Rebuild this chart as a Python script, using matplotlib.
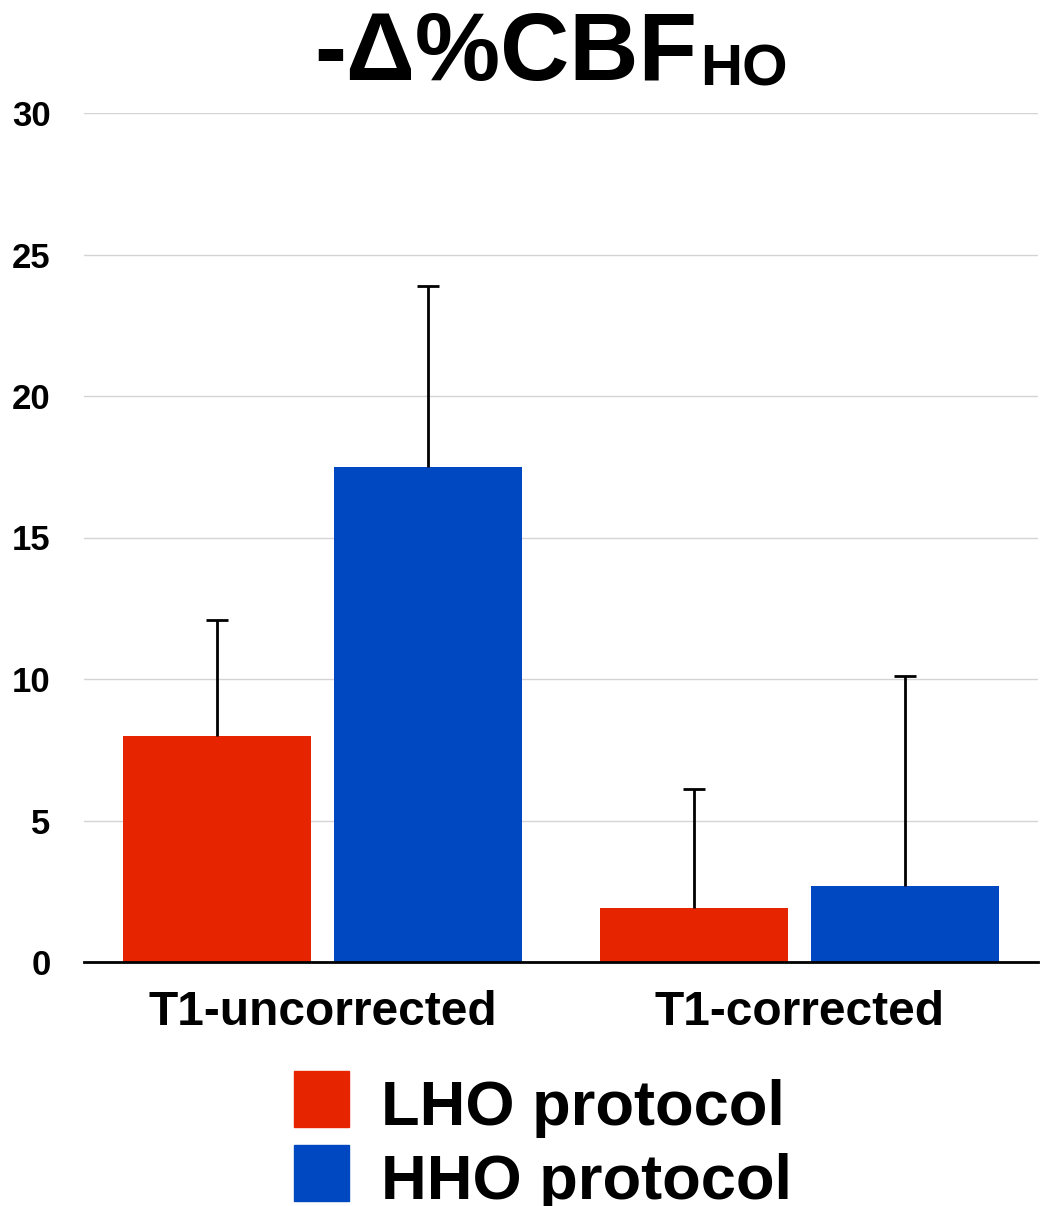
import matplotlib.pyplot as plt
import numpy as np
from matplotlib.patches import Rectangle

plt.rcParams['font.family'] = ['Liberation Sans', 'DejaVu Sans']
plt.rcParams['font.weight'] = 'bold'

# datos
grupos = ['T1-uncorrected', 'T1-corrected']
series = ['LHO protocol', 'HHO protocol']
lho = [8.0, 1.9]
hho = [17.5, 2.7]
lho_err = [4.1, 4.2]
hho_err = [6.4, 7.4]
colores = ['#E62400', '#0048C2']

W, H = 1043, 1206
fig = plt.figure(figsize=(W / 100, H / 100), dpi=100)
ax = fig.add_axes([84 / W, 1 - 962 / H, (1038 - 84) / W, (962 - 113) / H])

x = np.arange(len(grupos))
ancho = 0.395
off = 0.2207
err_kw = dict(ecolor='black', elinewidth=2, capsize=8, capthick=2)
ax.bar(x - off, lho, ancho, color=colores[0], zorder=2)
ax.bar(x + off, hho, ancho, color=colores[1], zorder=2)
# solo barra de error superior
for pos, val, err in [(x - off, lho, lho_err), (x + off, hho, hho_err)]:
    eb = ax.errorbar(pos, val, yerr=[np.zeros(2), err], fmt='none', zorder=3, **err_kw)
    eb[1][0].set_visible(False)  # quitar tapa inferior

ax.set_xlim(-0.5, 1.5)
ax.set_ylim(0, 30)
ax.set_yticks([0, 5, 10, 15, 20, 25, 30])
ax.yaxis.grid(True, color='#d4d4d4', lw=1)
ax.set_axisbelow(True)
for s in ['left', 'right', 'top']:
    ax.spines[s].set_visible(False)
ax.spines['bottom'].set_linewidth(2)
ax.tick_params(axis='y', length=0, pad=24, labelsize=25)
ax.tick_params(axis='x', length=0, pad=20, labelsize=34.5)
ax.set_xticks(x)
ax.set_xticklabels(grupos)
for t in ax.get_yticklabels() + ax.get_xticklabels():
    t.set_fontweight('bold')

# titulo con subindice
tit = fig.text(314 / W, 1 - 80 / H, '-Δ%CBF', fontsize=69, fontweight='bold', va='baseline', ha='left')
fig.canvas.draw()
bb = tit.get_window_extent()
fig.text(bb.x1 / W + 3 / W, 1 - 86 / H, 'HO', fontsize=42, fontweight='bold', va='baseline', ha='left')

# leyenda
for i, (lab, c) in enumerate(zip(series, colores)):
    y0 = 1071 + i * 74
    fig.patches.append(Rectangle((294 / W, 1 - (y0 + 56) / H), 55 / W, 56 / H,
                                 transform=fig.transFigure, color=c))
    fig.text(381 / W, 1 - (y0 + 54) / H, lab, fontsize=45.5, fontweight='bold', va='baseline', ha='left')

plt.savefig('out.png', dpi=100)
